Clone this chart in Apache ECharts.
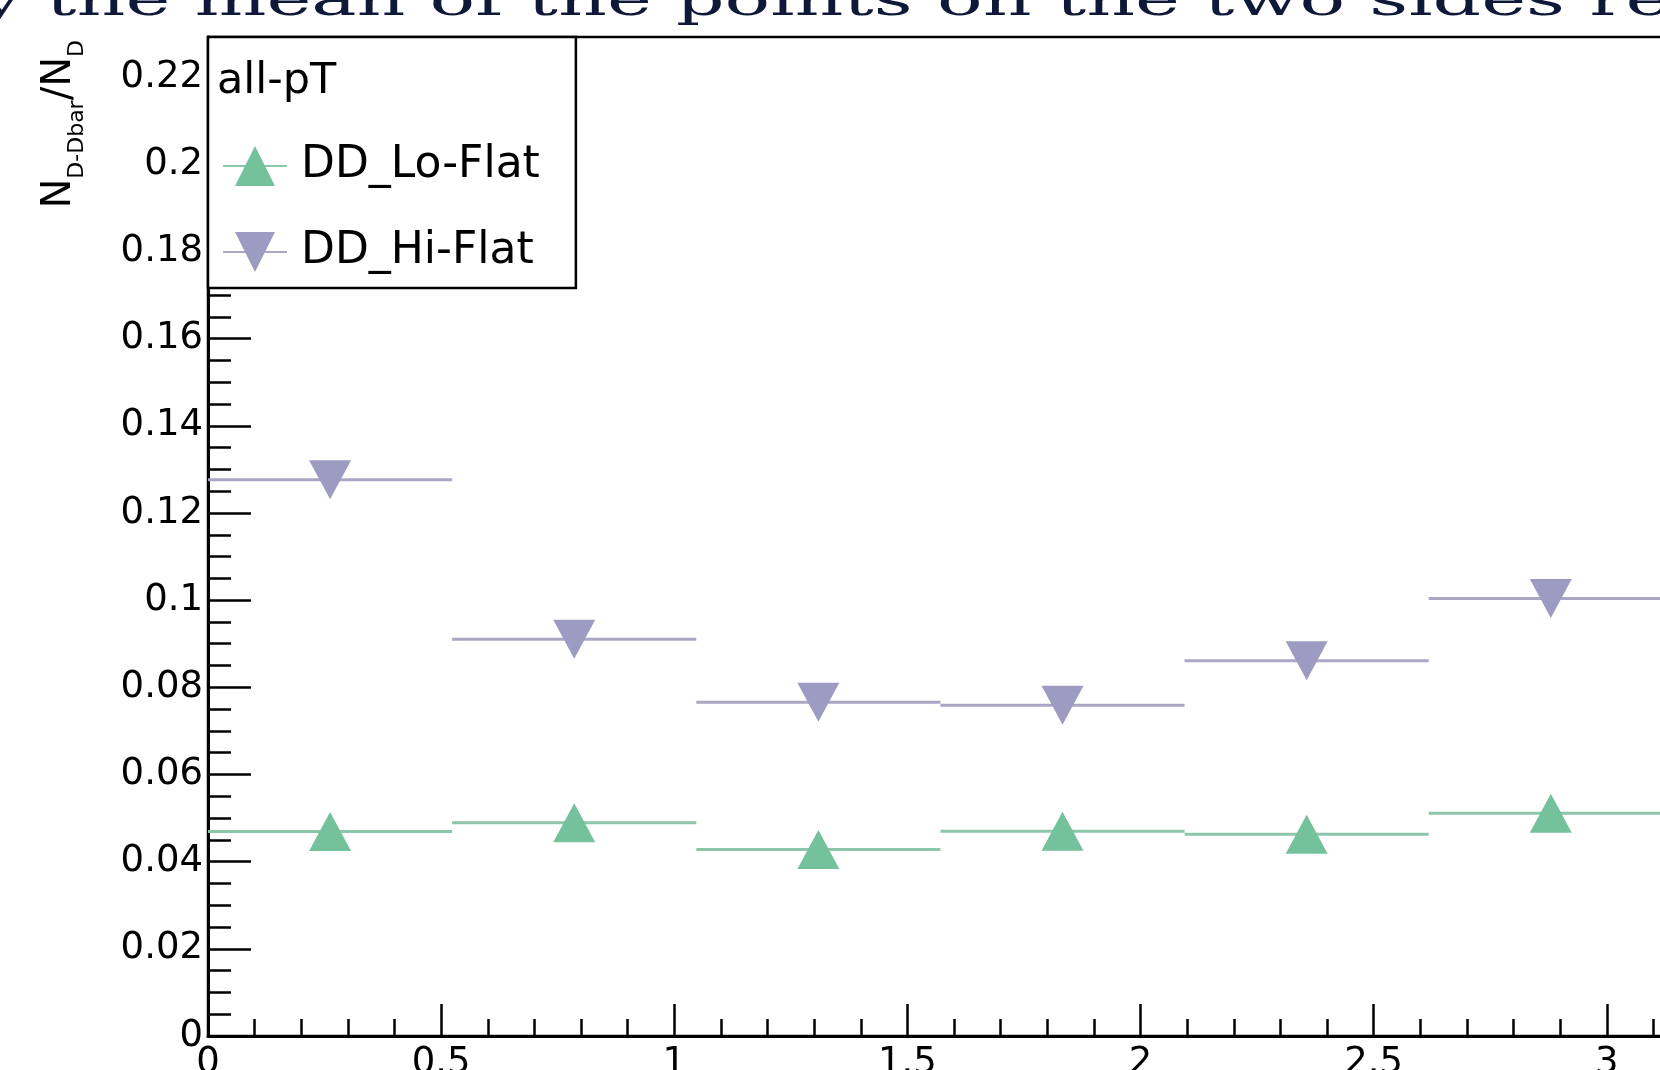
<!DOCTYPE html>
<html>
<head>
<meta charset="utf-8">
<script src="https://cdn.jsdelivr.net/npm/echarts@6/dist/echarts.min.js"></script>
<style>
  html, body { margin: 0; padding: 0; background: #fff; }
  #main { width: 1660px; height: 1070px; }
</style>
</head>
<body>
<div id="main"></div>
<script>
// bins in x (0..pi, 6 bins)
const binEdges = [0, 0.5236, 1.0472, 1.5708, 2.0944, 2.618, 3.1416];
const loFlat = [0.0469, 0.0489, 0.0428, 0.0470, 0.0463, 0.0511];
const hiFlat = [0.1276, 0.0910, 0.0766, 0.0759, 0.0861, 0.1004];
const seriesNames = ['DD_Lo-Flat', 'DD_Hi-Flat'];
const headerText = 'all-pT';
const topText = 'y the mean of the points on the two sides re';

const xMax = 3.5;      // axis runs past the picture edge
const yMax = 0.2292;

// horizontal bar over each bin, marker only at bin centre
function stepData(vals) {
    const out = [];
    vals.forEach((v, i) => {
        const lo = binEdges[i], hi = binEdges[i + 1];
        out.push({ value: [lo, v], symbol: 'none' });
        out.push({ value: [(lo + hi) / 2, v] });
        out.push({ value: [hi, v], symbol: 'none' });
        out.push({ value: [hi, '-'], symbol: 'none' });
    });
    return out;
}

const font = 'DejaVu Sans';
const chart = echarts.init(document.getElementById('main'), null, { renderer: 'canvas' });

chart.setOption({
    animation: false,
    textStyle: { fontFamily: font },
    grid: {
        left: 208, top: 37, width: 1632, height: 999,
        show: true, borderColor: '#000', borderWidth: 2.5,
        outerBoundsMode: 'none'
    },
    title: {
        text: headerText,
        left: 217, top: 60, padding: 0,
        textStyle: { fontFamily: font, fontSize: 43, fontWeight: 'normal', color: '#000' }
    },
    legend: {
        orient: 'vertical',
        left: 208, top: 37,
        padding: [107, 36, 14, 14],
        itemWidth: 64, itemHeight: 50, itemGap: 42,
        backgroundColor: '#fff',
        borderColor: '#000', borderWidth: 2.5,
        selectedMode: false,
        textStyle: { fontFamily: font, fontSize: 44, color: '#000', padding: [0, 0, 0, 9] },
        data: seriesNames
    },
    xAxis: {
        type: 'value', min: 0, max: xMax, interval: 0.5,
        splitLine: { show: false },
        axisLine: { lineStyle: { color: '#000', width: 3 } },
        axisTick: { inside: true, length: 32, lineStyle: { color: '#000', width: 2.5 } },
        minorTick: { show: true, splitNumber: 5, length: 17, lineStyle: { color: '#000', width: 2.5 } },
        axisLabel: {
            margin: 9, fontSize: 37, color: '#000', fontFamily: font,
            formatter: v => (v > 3.01 ? '' : String(+v.toFixed(2)))
        }
    },
    yAxis: {
        type: 'value', min: 0, max: yMax, interval: 0.02,
        splitLine: { show: false },
        axisLine: { lineStyle: { color: '#000', width: 3 } },
        axisTick: { inside: true, length: 43, lineStyle: { color: '#000', width: 2.5 } },
        minorTick: { show: true, splitNumber: 4, length: 23, lineStyle: { color: '#000', width: 2.5 } },
        axisLabel: {
            margin: 5, fontSize: 37, color: '#000', fontFamily: font,
            formatter: v => {
                const k = v / 0.02;
                return Math.abs(k - Math.round(k)) < 1e-6 ? String(+v.toFixed(4)) : '';
            }
        }
    },
    graphic: [
        {
            type: 'text', x: -21, y: 3, scaleX: 1.65, scaleY: 1,
            style: {
                text: topText, font: '46px "DejaVu Serif"', fill: '#0e1838',
                align: 'left', verticalAlign: 'middle'
            }
        },
        {
            type: 'text', x: 64, y: 40, rotation: Math.PI / 2,
            style: {
                text: '{n|N}{s|D-Dbar}{n|/N}{s|D}',
                align: 'right', verticalAlign: 'middle',
                rich: {
                    n: { fontSize: 40, lineHeight: 40, fontFamily: font, fill: '#000', verticalAlign: 'top' },
                    s: { fontSize: 22, lineHeight: 48, fontFamily: font, fill: '#000', verticalAlign: 'bottom' }
                }
            }
        }
    ],
    series: [
        {
            name: seriesNames[0], type: 'line',
            data: stepData(loFlat),
            connectNulls: false,
            symbol: 'triangle', symbolSize: [42, 39],
            itemStyle: { color: '#74c29c' },
            lineStyle: { color: '#8cc6ab', width: 3 },
            z: 3
        },
        {
            name: seriesNames[1], type: 'line',
            data: stepData(hiFlat),
            connectNulls: false,
            symbol: 'triangle', symbolSize: [42, 39], symbolRotate: 180,
            itemStyle: { color: '#9e9bc2' },
            lineStyle: { color: '#a9a7c3', width: 3 },
            z: 3
        }
    ]
});
</script>
</body>
</html>
